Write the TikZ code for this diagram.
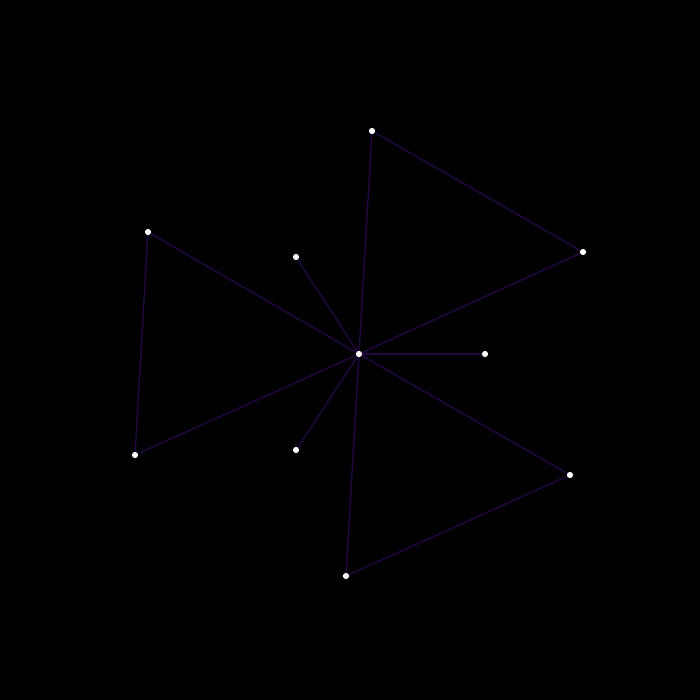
\documentclass[tikz,border=0pt]{standalone}
\begin{document}
\begin{tikzpicture}[x=0.01cm,y=-0.01cm,
  dot/.style={circle,fill=white,inner sep=0pt,minimum size=0.062cm},
  edge/.style={draw=edgecol,line width=0.4pt}]
\definecolor{edgecol}{RGB}{36,6,66}
\fill[black] (0,0) rectangle (700,700);
\useasboundingbox (0,0) rectangle (700,700);
\coordinate (C) at (359,354);
\coordinate (A) at (372,131);
\coordinate (B) at (583,252);
\coordinate (D) at (485,354);
\coordinate (E) at (296,257);
\coordinate (F) at (148,232);
\coordinate (G) at (135,455);
\coordinate (H) at (296,450);
\coordinate (I) at (570,475);
\coordinate (J) at (346,576);
\path[edge] (C) -- (A) -- (B) -- (C);
\path[edge] (C) -- (D);
\path[edge] (C) -- (E);
\path[edge] (C) -- (F) -- (G) -- (C);
\path[edge] (C) -- (H);
\path[edge] (C) -- (I) -- (J) -- (C);
\foreach \n in {A,B,C,D,E,F,G,H,I,J} \node[dot] (n\n) at (\n) {};
\end{tikzpicture}
\end{document}
